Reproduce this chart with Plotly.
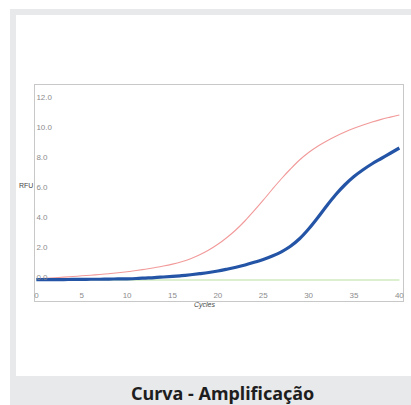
import plotly.graph_objects as go

cycles = list(range(0, 41))

red_rfu = [-0.12, -0.08, -0.05, -0.01, 0.03, 0.08, 0.12, 0.17, 0.22, 0.28,
           0.35, 0.43, 0.52, 0.62, 0.73, 0.86, 1.02, 1.22, 1.48, 1.80,
           2.18, 2.63, 3.15, 3.75, 4.42, 5.12, 5.85, 6.55, 7.20, 7.80,
           8.30, 8.72, 9.07, 9.38, 9.66, 9.91, 10.13, 10.33, 10.51, 10.66,
           10.80]

blue_rfu = [-0.18, -0.18, -0.17, -0.17, -0.16, -0.16, -0.15, -0.15, -0.14, -0.13,
            -0.12, -0.10, -0.07, -0.04, 0.00, 0.04, 0.09, 0.15, 0.22, 0.30,
            0.40, 0.52, 0.65, 0.80, 0.98, 1.17, 1.40, 1.68, 2.05, 2.55,
            3.20, 3.95, 4.75, 5.50, 6.15, 6.70, 7.15, 7.55, 7.90, 8.25,
            8.60]

green_rfu = [-0.2] * 41

y_ticks = [0, 2, 4, 6, 8, 10, 12]
x_ticks = [0, 5, 10, 15, 20, 25, 30, 35, 40]

W, H = 411, 405
L, T, R, B = 35, 85, 403, 301
pw, ph = R - L, B - T

def px(x):
    return (x - L) / pw

def py(y):
    return (B - y) / ph

fig = go.Figure()
fig.add_trace(go.Scatter(x=cycles, y=green_rfu, mode="lines",
                         line=dict(color="#b9e0a0", width=1.2), hoverinfo="skip"))
fig.add_trace(go.Scatter(x=cycles, y=red_rfu, mode="lines", line_shape="spline",
                         line=dict(color="#f29a9a", width=1.1), hoverinfo="skip"))
fig.add_trace(go.Scatter(x=cycles, y=blue_rfu, mode="lines", line_shape="spline",
                         line=dict(color="#2454a6", width=3.2), hoverinfo="skip"))

shapes = [
    dict(type="rect", xref="paper", yref="paper", layer="below",
         x0=px(10), x1=px(411), y0=py(9), y1=py(405),
         fillcolor="#e8e9eb", line=dict(width=0)),
    dict(type="rect", xref="paper", yref="paper", layer="below",
         x0=px(16), x1=px(411), y0=py(15), y1=py(376),
         fillcolor="#ffffff", line=dict(width=0)),
]

annotations = [
    dict(text="RFU", xref="paper", yref="paper", x=px(26), y=py(185),
         showarrow=False, font=dict(size=7, color="#444", family="Liberation Sans"),
         xanchor="center", yanchor="middle"),
    dict(text="<i>Cycles</i>", xref="paper", yref="paper", x=px(205), y=py(305),
         showarrow=False, font=dict(size=7, color="#444", family="Liberation Sans"),
         xanchor="center", yanchor="middle"),
    dict(text="<b>Curva - Amplificação</b>", xref="paper", yref="paper",
         x=px(222), y=py(393), showarrow=False,
         font=dict(size=18, color="#1e1e1e", family="Noto Sans"),
         xanchor="center", yanchor="middle"),
]

tickfont = dict(size=8, color="#8c8c8c", family="Liberation Sans")

fig.update_layout(
    width=W, height=H,
    margin=dict(l=L, r=W - R, t=T, b=H - B, pad=0),
    paper_bgcolor="#ffffff", plot_bgcolor="#ffffff",
    showlegend=False,
    shapes=shapes, annotations=annotations,
    xaxis=dict(range=[-0.15, 40.4], tickvals=x_ticks, ticktext=[str(v) for v in x_ticks],
               ticklabelposition="inside", ticklabeloverflow="allow",
               showgrid=False, zeroline=False,
               showline=True, linecolor="#c8c8c8", linewidth=1, mirror=True,
               ticks="", tickfont=tickfont),
    yaxis=dict(range=[-1.6, 12.8], tickvals=y_ticks, ticktext=[f"{v:.1f}" for v in y_ticks],
               ticklabelposition="inside", ticklabeloverflow="allow",
               showgrid=False, zeroline=False,
               showline=True, linecolor="#c8c8c8", linewidth=1, mirror=True,
               ticks="", tickfont=tickfont),
)

fig.write_html("out.html",
               config={"displayModeBar": False, "staticPlot": True},
               post_script="document.body.style.margin='0';document.body.style.padding='0';document.documentElement.style.overflow='hidden';")
